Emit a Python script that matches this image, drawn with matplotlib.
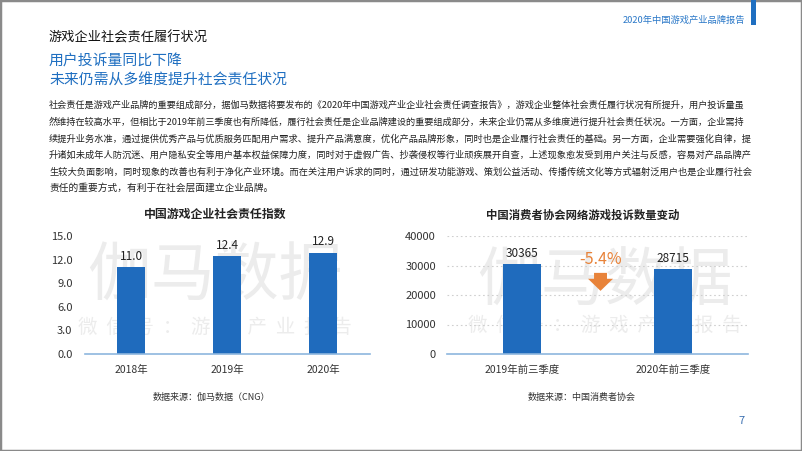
"""
游戏企业社会责任履行状况 - page 7 recreation
"""
import matplotlib
matplotlib.use('Agg')
import matplotlib.pyplot as plt
from matplotlib.patches import Rectangle, Polygon

plt.rcParams['font.family'] = ['Noto Sans CJK SC', 'DejaVu Sans']

# data
index_years = ['2018年', '2019年', '2020年']
index_values = [11.0, 12.4, 12.9]
index_ticks = [0, 3, 6, 9, 12, 15]

complaint_periods = ['2019年前三季度', '2020年前三季度']
complaint_values = [30365, 28715]
complaint_ticks = [0, 10000, 20000, 30000, 40000]
complaint_change = '-5.4%'

paragraph = [
    '社会责任是游戏产业品牌的重要组成部分，据伽马数据将要发布的《2020年中国游戏产业企业社会责任调查报告》，游戏企业整体社会责任履行状况有所提升，用户投诉量虽',
    '然维持在较高水平，但相比于2019年前三季度也有所降低，履行社会责任是企业品牌建设的重要组成部分，未来企业仍需从多维度进行提升社会责任状况。一方面，企业需持',
    '续提升业务水准，通过提供优秀产品与优质服务匹配用户需求、提升产品满意度，优化产品品牌形象，同时也是企业履行社会责任的基础。另一方面，企业需要强化自律，提',
    '升诸如未成年人防沉迷、用户隐私安全等用户基本权益保障力度，同时对于虚假广告、抄袭侵权等行业顽疾展开自查，上述现象愈发受到用户关注与反感，容易对产品品牌产',
    '生较大负面影响，同时现象的改善也有利于净化产业环境。而在关注用户诉求的同时，通过研发功能游戏、策划公益活动、传播传统文化等方式辐射泛用户也是企业履行社会',
    '责任的重要方式，有利于在社会层面建立企业品牌。',
]

W, H = 802, 451
bar_blue = '#1f6bbd'
base_blue = '#8db6de'
text_dark = '#333333'
wm_color = '#ececec'

fig = plt.figure(figsize=(W / 100, H / 100), dpi=100)
fig.patch.set_facecolor('white')


def fx(px):
    return px / W


def fy(py):
    return 1 - py / H


def box(l, t, r, b):
    return [fx(l), fy(b), fx(r) - fx(l), fy(t) - fy(b)]


# page frame + header
fig.add_artist(Rectangle((0, 0), 1, 1, transform=fig.transFigure, fill=False,
                         edgecolor='#8a8a8a', linewidth=2.5))
fig.add_artist(Rectangle((fx(751), fy(25)), fx(5), 25 / H, transform=fig.transFigure,
                         facecolor='#1f6fc1', edgecolor='none'))
fig.text(fx(745), fy(20), '2020年中国游戏产业品牌报告', ha='right', va='center',
         fontsize=6.7, color='#2a78c8')

fig.text(fx(49), fy(38), '游戏企业社会责任履行状况', ha='left', va='center',
         fontsize=9.5, color='#111111')
fig.text(fx(49), fy(62), '用户投诉量同比下降', ha='left', va='center',
         fontsize=10.7, color='#1f6fc1')
fig.text(fx(49), fy(80), '未来仍需从多维度提升社会责任状况', ha='left', va='center',
         fontsize=10.7, color='#1f6fc1')

# paragraph: lines stretched to the text block width (justified look)
renderer = fig.canvas.get_renderer()
line_y = [105, 122, 139, 155, 172, 188]
block_w = 752 - 49
base_fs = 7.0
for i, (txt, y) in enumerate(zip(paragraph, line_y)):
    t = fig.text(fx(49), fy(y), txt, ha='left', va='center', fontsize=base_fs,
                 color='#222222')
    if i < len(paragraph) - 1:
        w = t.get_window_extent(renderer).width
        t.set_fontsize(base_fs * block_w / w)


def watermark(ax, cx, cy1, cy2):
    ax.text(fx(cx), fy(cy1), '伽马数据', transform=fig.transFigure, ha='center',
            va='center', fontsize=46, color=wm_color, zorder=0.5)
    ax.text(fx(cx), fy(cy2), '微  信  号  ：  游  戏  产  业  报  告', transform=fig.transFigure,
            ha='center', va='center', fontsize=14, color=wm_color, zorder=0.5)


def style_axes(ax):
    ax.set_facecolor('none')
    for s in ['top', 'right', 'left']:
        ax.spines[s].set_visible(False)
    ax.spines['bottom'].set_color(base_blue)
    ax.spines['bottom'].set_linewidth(1.2)
    ax.tick_params(axis='both', length=0, colors=text_dark)
    ax.tick_params(axis='y', pad=9, labelsize=8)
    ax.tick_params(axis='x', pad=8, labelsize=7.5)


# left chart: social responsibility index
ax1 = fig.add_axes(box(85, 236, 370, 354))
style_axes(ax1)
x1 = list(range(len(index_years)))
bars1 = ax1.bar(x1, index_values, width=0.3, color=bar_blue, zorder=2)
ax1.set_xlim(-0.48, 2.49)
ax1.set_ylim(0, 15)
ax1.set_yticks(index_ticks)
ax1.set_yticklabels([f'{v:.1f}' for v in index_ticks])
ax1.set_xticks(x1)
ax1.set_xticklabels(index_years)
for b, v in zip(bars1, index_values):
    ax1.annotate(f'{v:.1f}', (b.get_x() + b.get_width() / 2, v), xytext=(0, 3),
                 textcoords='offset points', ha='center', va='bottom',
                 fontsize=8.5, color='#222222')
watermark(ax1, 215, 278, 327)
fig.text(fx(215), fy(214), '中国游戏企业社会责任指数', ha='center', va='center',
         fontsize=8.6, fontweight='bold', color='#222222')
fig.text(fx(211), fy(397), '数据来源：伽马数据（CNG）', ha='center', va='center',
         fontsize=6.5, color=text_dark)

# right chart: CCA complaints
ax2 = fig.add_axes(box(447, 236, 748, 354))
style_axes(ax2)
x2 = list(range(len(complaint_periods)))
bars2 = ax2.bar(x2, complaint_values, width=0.25, color=bar_blue, zorder=2)
ax2.set_xlim(-0.5, 1.5)
ax2.set_ylim(0, 40000)
ax2.set_yticks(complaint_ticks)
ax2.set_xticks(x2)
ax2.set_xticklabels(complaint_periods)
ax2.tick_params(axis='y', pad=8)
for t in complaint_ticks[1:]:
    ax2.axhline(t, color='#cfcfcf', linestyle=(0, (1.5, 2.5)), linewidth=0.8, zorder=1)
for b, v in zip(bars2, complaint_values):
    ax2.annotate(f'{v}', (b.get_x() + b.get_width() / 2, v), xytext=(0, 3),
                 textcoords='offset points', ha='center', va='bottom',
                 fontsize=8.5, color='#222222')
watermark(ax2, 605, 283, 325)

# change label + orange arrow between the bars
mid = 0.52
ax2.text(mid, 32000, complaint_change, ha='center', va='center', fontsize=11.5,
         color='#e8833a', zorder=3)
arrow = Polygon([(mid - 0.043, 27500), (mid + 0.043, 27500), (mid + 0.043, 25500),
                 (mid + 0.083, 25500), (mid, 21400), (mid - 0.083, 25500),
                 (mid - 0.043, 25500)], closed=True, facecolor='#e8833a',
                edgecolor='none', zorder=3)
ax2.add_patch(arrow)

fig.text(fx(583), fy(215), '中国消费者协会网络游戏投诉数量变动', ha='center', va='center',
         fontsize=8.2, fontweight='bold', color='#222222')
fig.text(fx(582), fy(397), '数据来源：中国消费者协会', ha='center', va='center',
         fontsize=6.5, color=text_dark)

fig.text(fx(742), fy(421), '7', ha='center', va='center', fontsize=8, color='#3a6fb0')

fig.savefig('out.png', dpi=100)
